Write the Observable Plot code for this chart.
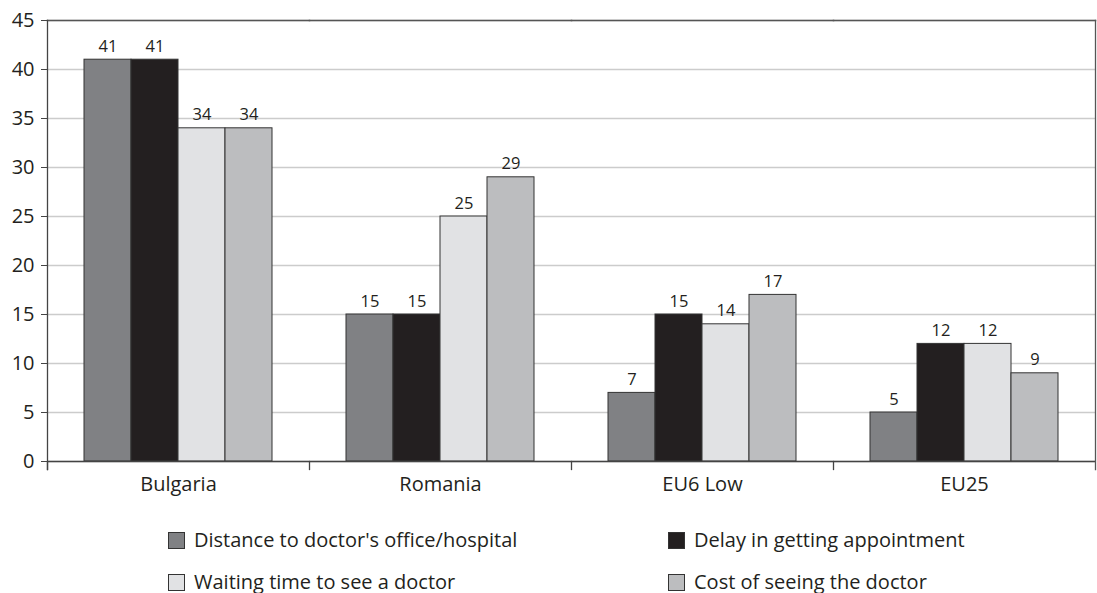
<!DOCTYPE html>
<html><head><meta charset="utf-8">
<script src="https://cdn.jsdelivr.net/npm/d3@7"></script>
<script src="https://cdn.jsdelivr.net/npm/@observablehq/plot@0.6"></script>
<style>
body{margin:0;background:#fff;font-family:"Open Sans",sans-serif;overflow:hidden;}
#chart{width:1097px;position:relative;}
.legend{position:relative;height:93px;width:1097px;}
.item{position:absolute;display:flex;align-items:center;height:20px;line-height:20px;font-size:20px;color:#231f20;white-space:nowrap;}
.sw{width:17px;height:17px;border:1px solid #333;margin-right:9px;box-sizing:border-box;}
</style></head><body>
<div id="chart"></div>
<script>
const groups = ["Bulgaria", "Romania", "EU6 Low", "EU25"];
const series = ["Distance to doctor's office/hospital", "Delay in getting appointment", "Waiting time to see a doctor", "Cost of seeing the doctor"];
const distance = [41, 15, 7, 5];
const delay = [41, 15, 15, 12];
const waiting = [34, 25, 14, 12];
const cost = [34, 29, 17, 9];
const colors = ["#808184", "#231f20", "#e1e2e4", "#bcbdbf"];
const yTicks = [0, 5, 10, 15, 20, 25, 30, 35, 40, 45];

const seriesValues = [distance, delay, waiting, cost];
const data = [];
groups.forEach((g, gi) => series.forEach((s, si) => data.push({group: g, series: s, value: seriesValues[si][gi]})));

const H = 500, mt = 20, mb = 39;
const plotH = H - mt - mb;

const chart = Plot.plot({
  width: 1097,
  height: H,
  marginTop: mt,
  marginBottom: mb,
  marginLeft: 46,
  marginRight: 1,
  style: {fontFamily: "'Open Sans', sans-serif", fontSize: "20px", color: "#231f20", background: "#fff"},
  fx: {domain: groups, padding: 0, label: null},
  x: {domain: series, paddingInner: 0, paddingOuter: 0.734, axis: null},
  y: {domain: [0, 45], label: null},
  color: {domain: series, range: colors},
  marks: [
    Plot.gridY(yTicks, {stroke: "#cccccc", strokeOpacity: 1, strokeWidth: 1.3}),
    Plot.barY(data, {fx: "group", x: "series", y: "value", fill: "series", stroke: "#333", strokeWidth: 1}),
    Plot.text(data, {fx: "group", x: "series", y: "value", text: "value", lineAnchor: "bottom", dy: -8, fontSize: 16.5, fill: "#231f20"}),
    Plot.ruleY([0], {stroke: "#444", strokeWidth: 1.3}),
    Plot.frame({anchor: "top", stroke: "#555", strokeWidth: 1.5}),
    Plot.frame({anchor: "left", facetAnchor: "left", insetBottom: -8, stroke: "#444", strokeWidth: 1.3}),
    Plot.frame({anchor: "left", insetTop: plotH, insetBottom: -8, stroke: "#444", strokeWidth: 1.3}),
    Plot.frame({anchor: "right", facetAnchor: "right", insetBottom: -8, stroke: "#555", strokeWidth: 1.3}),
    Plot.axisY(yTicks, {tickSize: 6, tickPadding: 7, stroke: "#444", fill: "#231f20", fontSize: 20, label: null}),
    Plot.axisFx({anchor: "bottom", tickSize: 0, tickPadding: 15, label: null, fontSize: 20, fill: "#231f20"})
  ]
});
document.getElementById("chart").appendChild(chart);

const legend = document.createElement("div");
legend.className = "legend";
const pos = [[168, 30], [668, 30], [168, 72], [668, 72]];
series.forEach((s, i) => {
  const it = document.createElement("div");
  it.className = "item";
  it.style.left = pos[i][0] + "px";
  it.style.top = pos[i][1] + "px";
  const sw = document.createElement("span");
  sw.className = "sw";
  sw.style.background = colors[i];
  const tx = document.createElement("span");
  tx.textContent = s;
  it.appendChild(sw);
  it.appendChild(tx);
  legend.appendChild(it);
});
document.getElementById("chart").appendChild(legend);
</script>
</body></html>
